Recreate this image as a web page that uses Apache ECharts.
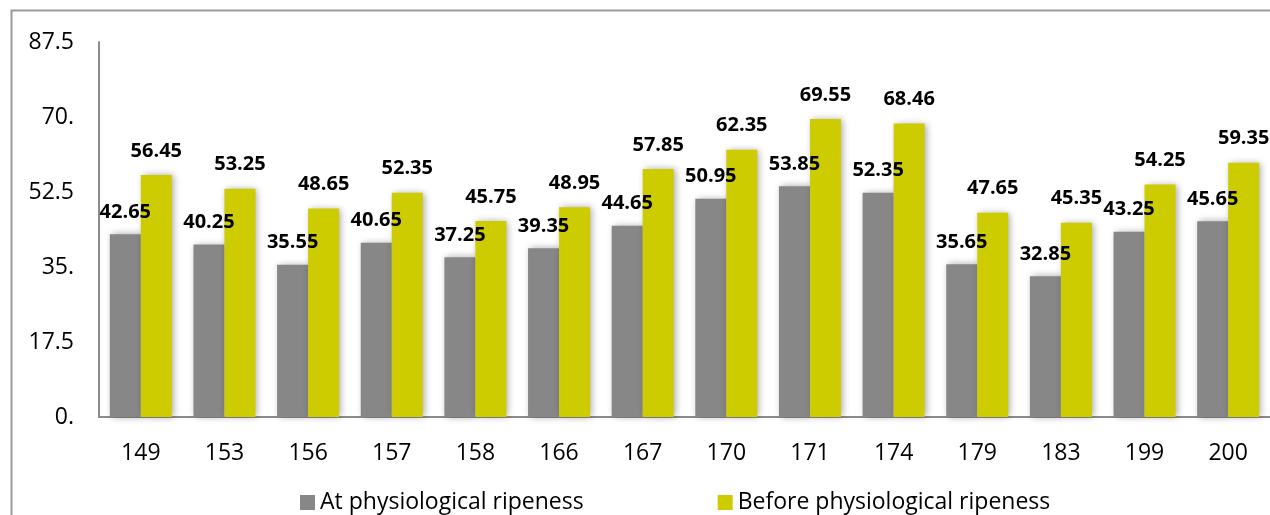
<!DOCTYPE html>
<html>
<head>
<meta charset="utf-8">
<style>
  html, body { margin: 0; padding: 0; background: #ffffff; }
  #chart { width: 1270px; height: 515px; }
</style>
<script src="https://cdn.jsdelivr.net/npm/echarts@6/dist/echarts.min.js"></script>
</head>
<body>
<div id="chart"></div>
<script>
// Sample codes along the x axis
const categories = ['149', '153', '156', '157', '158', '166', '167', '170', '171', '174', '179', '183', '199', '200'];
// Measured values for each ripeness stage
const atRipeness = [42.65, 40.25, 35.55, 40.65, 37.25, 39.35, 44.65, 50.95, 53.85, 52.35, 35.65, 32.85, 43.25, 45.65];
const beforeRipeness = [56.45, 53.25, 48.65, 52.35, 45.75, 48.95, 57.85, 62.35, 69.55, 68.46, 47.65, 45.35, 54.25, 59.35];
const seriesNames = ['At physiological ripeness', 'Before physiological ripeness'];
// Value axis range
const yMin = 0, yMax = 87.5, yStep = 17.5;

const FONT = '"Open Sans", "Noto Sans", sans-serif';
const GRAY = '#878787';
const YELLOW = '#cccc00';

const chart = echarts.init(document.getElementById('chart'), null, { renderer: 'canvas' });

function barSeries(name, data, color, labelDistance) {
  return {
    name: name,
    type: 'bar',
    data: data,
    barWidth: 31,
    barGap: '0%',
    itemStyle: {
      color: color,
      shadowColor: 'rgba(0,0,0,0.35)',
      shadowBlur: 7,
      shadowOffsetX: 2,
      shadowOffsetY: 0
    },
    label: {
      show: true,
      position: 'top',
      distance: labelDistance,
      color: '#000',
      fontFamily: FONT,
      fontWeight: 'bold',
      fontSize: 20,
      formatter: p => p.value.toFixed(2)
    }
  };
}

chart.setOption({
  backgroundColor: '#ffffff',
  animation: false,
  graphic: [{
    type: 'rect',
    shape: { x: 11.5, y: 10.5, width: 1300, height: 600 },
    style: { fill: 'none', stroke: '#9a9a9a', lineWidth: 2 },
    silent: true,
    z: 0
  }],
  grid: { left: 99, top: 42, width: 1175, height: 375 },
  legend: {
    data: seriesNames,
    left: 295,
    top: 486,
    itemWidth: 15,
    itemHeight: 15,
    itemGap: 134,
    icon: 'rect',
    textStyle: { fontFamily: FONT, fontSize: 23, color: '#000' }
  },
  xAxis: {
    type: 'category',
    data: categories,
    axisLine: { show: true, lineStyle: { color: '#8c8c8c', width: 2 } },
    axisTick: { show: false },
    axisLabel: { margin: 25, fontFamily: FONT, fontSize: 23, color: '#000' }
  },
  yAxis: {
    type: 'value',
    min: yMin,
    max: yMax,
    interval: yStep,
    splitLine: { show: false },
    axisLine: { show: true, lineStyle: { color: '#8c8c8c', width: 2 } },
    axisTick: { show: false },
    axisLabel: {
      margin: 25,
      fontFamily: FONT,
      fontSize: 23,
      color: '#000',
      formatter: v => Number.isInteger(v) ? v + '.' : String(v)
    }
  },
  series: [
    barSeries(seriesNames[0], atRipeness, GRAY, 12),
    barSeries(seriesNames[1], beforeRipeness, YELLOW, 14)
  ]
});
</script>
</body>
</html>
